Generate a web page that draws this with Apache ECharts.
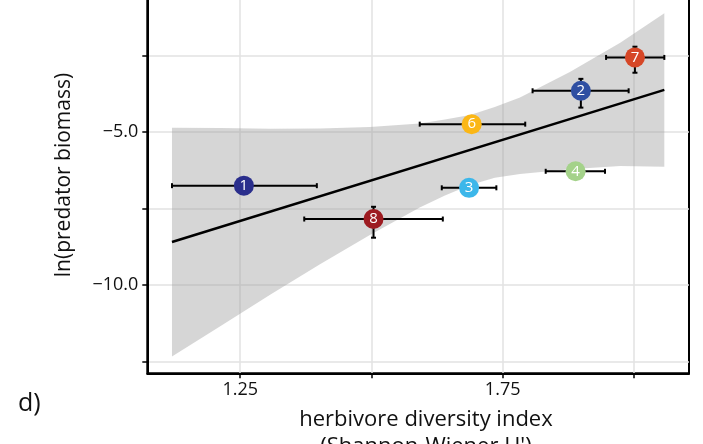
<!DOCTYPE html>
<html>
<head>
<meta charset="utf-8">
<script src="https://cdn.jsdelivr.net/npm/echarts@6/dist/echarts.min.js"></script>
<style>
  html, body { margin: 0; padding: 0; background: #fff; }
  #chart { width: 703px; height: 444px; }
</style>
</head>
<body>
<div id="chart"></div>
<script>
// Sites: herbivore diversity (Shannon-Wiener H') vs ln(predator biomass), with error ranges
const siteIds = ['1', '2', '3', '4', '6', '7', '8'];
const diversity     = [1.257, 1.899, 1.686, 1.889, 1.691, 2.002, 1.504];
const diversityLow  = [1.120, 1.807, 1.634, 1.832, 1.592, 1.947, 1.372];
const diversityHigh = [1.396, 1.990, 1.738, 1.945, 1.793, 2.058, 1.636];
const biomass     = [-6.76, -3.66, -6.83, -6.29, -4.75, -2.57, -7.85];
const biomassLow  = [-6.96, -4.21, -7.00, -6.45, -4.90, -3.07, -8.46];
const biomassHigh = [-6.56, -3.27, -6.66, -6.13, -4.60, -2.22, -7.45];

// Fitted linear trend
const fitX = [1.120, 2.058];
const fitY = [-8.60, -3.63];

// Confidence band around the trend
const bandX     = [1.120, 1.212, 1.307, 1.402, 1.497, 1.592, 1.640, 1.688, 1.735, 1.783, 1.878, 1.974, 2.058];
const bandUpper = [-4.87, -4.88, -4.90, -4.89, -4.84, -4.73, -4.60, -4.45, -4.19, -3.88, -3.05, -2.09, -1.13];
const bandLower = [-12.34, -11.35, -10.32, -9.33, -8.37, -7.47, -7.08, -6.74, -6.50, -6.38, -6.22, -6.12, -6.14];

// Axis ticks and labelled values
const xTicks  = [1.25, 1.5, 1.75, 2.0];
const xLabels = [1.25, 1.75];
const yTicks  = [-12.5, -10, -7.5, -5, -2.5];
const yLabels = [-10, -5];

// Marker colour per site
const siteColors = {
  '1': '#2a2e8c', '2': '#2f4fa2', '3': '#3cb7ea', '4': '#a4d28a',
  '6': '#fbb716', '7': '#d64727', '8': '#9d1b21'
};

const FONT = 'Open Sans';
const chart = echarts.init(document.getElementById('chart'), null, { renderer: 'canvas' });

chart.setOption({
  animation: false,
  backgroundColor: '#fff',
  grid: {
    left: 147.3, right: 14, top: -3.8, bottom: 70.7,
    show: true, borderColor: '#000', borderWidth: 2,
    containLabel: false, outerBoundsMode: 'none'
  },
  xAxis: {
    type: 'value', min: 1.073, max: 2.105,
    axisLine: { show: true, onZero: false, lineStyle: { color: '#000', width: 2 } },
    axisTick: { show: true, customValues: xTicks, length: 5, lineStyle: { color: '#000', width: 1.5 } },
    axisLabel: { customValues: xLabels, formatter: v => v.toFixed(2), color: '#111', fontSize: 18, fontFamily: FONT, margin: 8 },
    splitLine: { show: true, lineStyle: { color: '#e2e2e2', width: 1.5 } }
  },
  yAxis: {
    type: 'value', min: -12.89, max: -0.57,
    axisLine: { show: true, onZero: false, lineStyle: { color: '#000', width: 2 } },
    axisTick: { show: true, customValues: yTicks, length: 5, lineStyle: { color: '#000', width: 1.5 } },
    axisLabel: {
      customValues: yLabels,
      formatter: v => (v < 0 ? '\u2212' : '') + Math.abs(v).toFixed(1),
      color: '#111', fontSize: 18, fontFamily: FONT, margin: 9
    },
    splitLine: { show: true, lineStyle: { color: '#e2e2e2', width: 1.5 } }
  },
  graphic: [
    {
      type: 'text', x: 18, y: 404,
      style: { text: 'd)', font: '25px "Open Sans"', fill: '#111', verticalAlign: 'middle' }
    },
    {
      type: 'text', x: 426, y: 406,
      style: {
        text: "herbivore diversity index\n(Shannon-Wiener H')",
        font: '22px "Open Sans"', fill: '#111', align: 'center', verticalAlign: 'top', lineHeight: 27
      }
    },
    {
      type: 'text', x: 64, y: 175, rotation: Math.PI / 2,
      style: {
        text: 'ln(predator biomass)',
        font: '21px "Open Sans"', fill: '#111', align: 'center', verticalAlign: 'middle'
      }
    }
  ],
  series: [
    {
      // confidence band
      type: 'custom',
      silent: true,
      z: 1,
      data: [0],
      renderItem: (params, api) => {
        const pts = [];
        for (let i = 0; i < bandX.length; i++) pts.push(api.coord([bandX[i], bandUpper[i]]));
        for (let i = bandX.length - 1; i >= 0; i--) pts.push(api.coord([bandX[i], bandLower[i]]));
        return { type: 'polygon', shape: { points: pts }, style: { fill: 'rgba(153,153,153,0.4)' } };
      }
    },
    {
      // trend line
      type: 'line',
      z: 3,
      showSymbol: false,
      silent: true,
      data: fitX.map((x, i) => [x, fitY[i]]),
      lineStyle: { color: '#000', width: 2.5 }
    },
    {
      // horizontal and vertical error bars
      type: 'custom',
      z: 4,
      silent: true,
      data: siteIds.map((id, i) => [diversity[i], biomass[i], diversityLow[i], diversityHigh[i], biomassLow[i], biomassHigh[i]]),
      encode: { x: [0, 2, 3], y: [1, 4, 5] },
      renderItem: (params, api) => {
        const xv = api.value(0), yv = api.value(1);
        const xl = api.coord([api.value(2), yv]);
        const xh = api.coord([api.value(3), yv]);
        const yl = api.coord([xv, api.value(4)]);
        const yh = api.coord([xv, api.value(5)]);
        const cap = 2.5;
        const style = { stroke: '#000', lineWidth: 2, fill: null };
        const seg = (x1, y1, x2, y2) => ({ type: 'line', shape: { x1, y1, x2, y2 }, style });
        return {
          type: 'group',
          children: [
            seg(xl[0], xl[1], xh[0], xh[1]),
            seg(xl[0], xl[1] - cap, xl[0], xl[1] + cap),
            seg(xh[0], xh[1] - cap, xh[0], xh[1] + cap),
            seg(yl[0], yl[1], yh[0], yh[1]),
            seg(yl[0] - cap, yl[1], yl[0] + cap, yl[1]),
            seg(yh[0] - cap, yh[1], yh[0] + cap, yh[1])
          ]
        };
      }
    },
    {
      // site markers
      type: 'scatter',
      z: 5,
      symbolSize: 20,
      data: siteIds.map((id, i) => ({ value: [diversity[i], biomass[i]], name: id, itemStyle: { color: siteColors[id], opacity: 1 } })),
      label: { show: true, position: 'inside', formatter: p => p.name, color: '#fff', fontSize: 15, fontFamily: FONT }
    }
  ]
});
</script>
</body>
</html>
